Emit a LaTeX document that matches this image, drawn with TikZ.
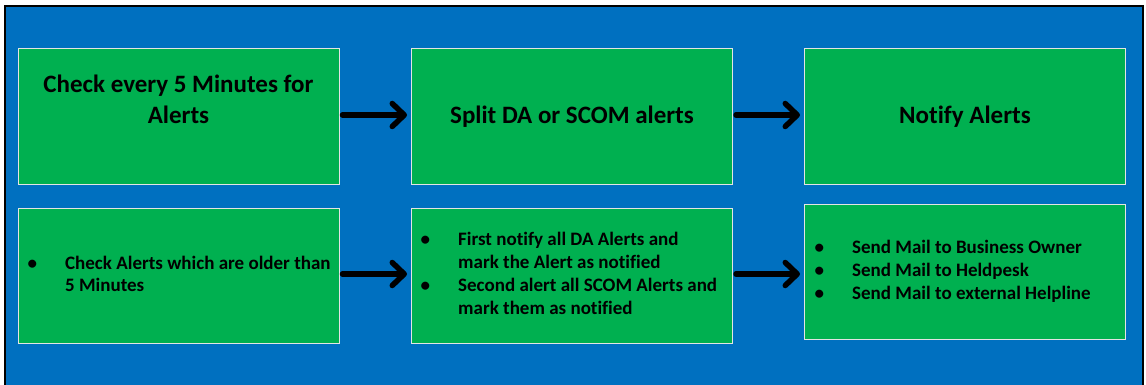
\documentclass[tikz,border=0pt]{standalone}
\usepackage{fontspec}
\setmainfont{Carlito}[Ligatures={NoCommon}]
\usetikzlibrary{arrows.meta}
\definecolor{bgblue}{HTML}{0070C0}
\definecolor{boxgreen}{HTML}{00B050}
\definecolor{boxedge}{HTML}{E4E4E4}
\tikzset{
  box/.style={rectangle, fill=boxgreen, draw=boxedge, line width=1pt, inner sep=0pt,
              minimum width=321pt, minimum height=135pt},
  big/.style={font=\fontsize{25}{30.5}\selectfont\bfseries, align=center, inner sep=0pt, anchor=base},
  lst/.style={font=\fontsize{19}{22.7}\selectfont\bfseries, inner sep=0pt, anchor=west, align=left},
  flow/.style={line width=5.5pt, line cap=round, shorten <=3pt, shorten >=4pt,
               -{Straight Barb[length=12pt,width=23pt,round]}},
}
\newcommand{\bul}{\textbullet}
\begin{document}
\begin{tikzpicture}[x=1pt,y=-1pt]
\useasboundingbox (0,0) rectangle (1146,385);
\fill[white] (0,0) rectangle (1146,385);
\fill[bgblue] (5,6) rectangle (1143,386);
\draw[black, line width=2pt] (5,386) -- (5,6) -- (1143,6) -- (1143,386);

% boxes
\node[box] (tl) at (178.5,116.5) {};
\node[box] (tm) at (572,116.5) {};
\node[box] (tr) at (965,116.5) {};
\node[box] (bl) at (178.5,275.5) {};
\node[box] (bm) at (572,275.5) {};
\node[box] (br) at (965,271.5) {};

% titles
\node[big] (tlt) at (178.5,123.5) {Check every 5 Minutes for\\Alerts};
\node[big] (tmt) at (572,123.5) {Split DA or SCOM alerts};
\node[big] (trt) at (965,123.5) {Notify Alerts};

% lists
\node[lst] (blt) at (27.5,276) {\begin{tabular}{@{}p{37.5pt}@{}l@{}}
\bul & Check Alerts which are older than\\
 & 5 Minutes
\end{tabular}};
\node[lst] (bmt) at (420.5,275.5) {\begin{tabular}{@{}p{37.5pt}@{}l@{}}
\bul & First notify all DA Alerts and\\
 & mark the Alert as notified\\
\bul & Second alert all SCOM Alerts and\\
 & mark them as notified
\end{tabular}};
\node[lst] (brt) at (814.5,272) {\begin{tabular}{@{}p{37.5pt}@{}l@{}}
\bul & Send Mail to Business Owner\\
\bul & Send Mail to Heldpesk\\
\bul & Send Mail to external Helpline
\end{tabular}};

% arrows
\draw[flow] ([yshift=1.5pt]tl.east) -- ([yshift=1.5pt]tm.west);
\draw[flow] ([yshift=1.5pt]tm.east) -- ([yshift=1.5pt]tr.west);
\draw[flow] ([yshift=1.5pt]bl.east) -- ([yshift=1.5pt]bm.west);
\draw[flow] ([yshift=1.5pt]bm.east) -- ([yshift=1.5pt]bm.east -| br.west);
\end{tikzpicture}
\end{document}
